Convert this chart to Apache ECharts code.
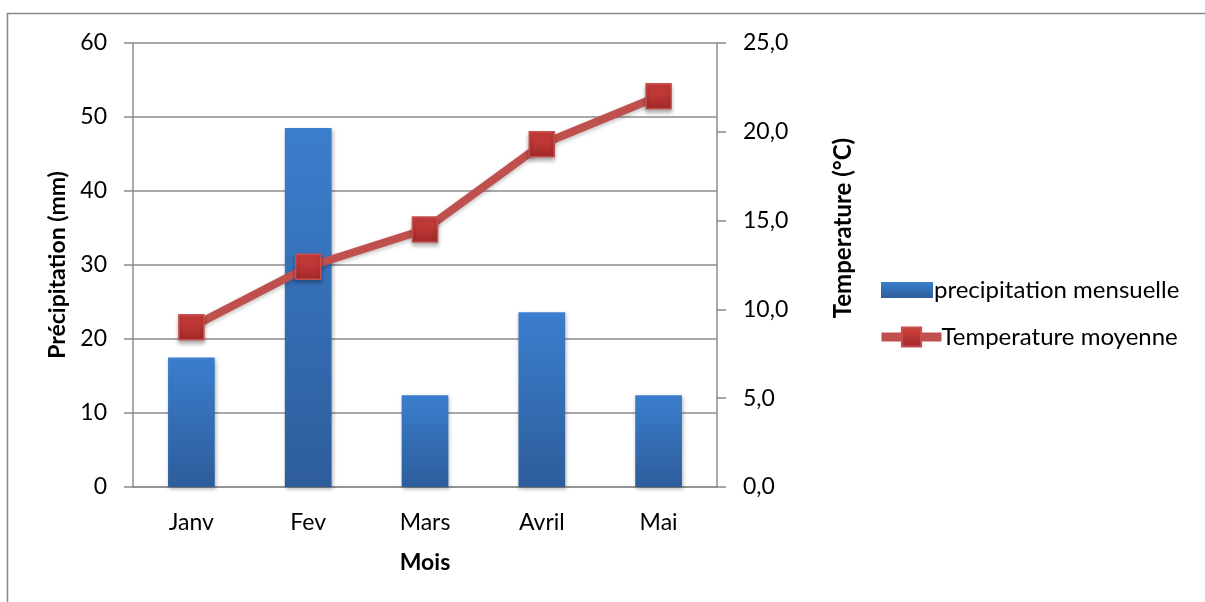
<!DOCTYPE html>
<html>
<head>
<meta charset="utf-8">
<script src="https://cdn.jsdelivr.net/npm/echarts@6/dist/echarts.min.js"></script>
<style>
  html, body { margin: 0; padding: 0; background: #fff; }
  #chart { width: 1205px; height: 602px; }
</style>
</head>
<body>
<div id="chart"></div>
<script>
// Monthly rainfall and mean temperature
const months = ['Janv', 'Fev', 'Mars', 'Avril', 'Mai'];
const precipitation = [17.5, 48.5, 12.4, 23.6, 12.4];   // mm
const temperature = [9.0, 12.4, 14.5, 19.3, 22.0];      // °C

const FONT = 'Lato, "Open Sans", sans-serif';
const FS = 23;
const GRID_GREY = '#8c8c8c';

const chart = echarts.init(document.getElementById('chart'), null, { renderer: 'canvas' });

const barFill = new echarts.graphic.LinearGradient(0, 0, 0, 1, [
  { offset: 0, color: '#3b7ecd' },
  { offset: 1, color: '#2d5d9b' }
]);
const markerFill = new echarts.graphic.LinearGradient(0, 0, 0, 1, [
  { offset: 0, color: '#d2413e' },
  { offset: 1, color: '#a2292a' }
]);

chart.setOption({
  animation: false,
  textStyle: { fontFamily: FONT },
  grid: { left: 133, right: 488, top: 43, bottom: 115, containLabel: false },
  graphic: [
    {
      type: 'rect',
      shape: { x: 7.5, y: 13.5, width: 1400, height: 800 },
      style: { fill: 'none', stroke: '#888', lineWidth: 1.5 },
      silent: true
    },
    {
      type: 'text',
      x: 843, y: 228,
      rotation: Math.PI / 2,
      style: {
        text: 'Temperature (°C)',
        font: 'bold 24px ' + FONT,
        fill: '#000',
        align: 'center',
        verticalAlign: 'middle'
      }
    }
  ],
  legend: [
    {
      orient: 'vertical',
      left: 876, top: 273,
      icon: 'rect',
      itemWidth: 52, itemHeight: 16, itemGap: 5,
      textStyle: { fontFamily: FONT, fontSize: 24, color: '#000', padding: [0, 0, 0, -4] },
      data: ['precipitation mensuelle']
    },
    {
      orient: 'vertical',
      left: 872, top: 320,
      itemWidth: 60, itemHeight: 24, itemGap: 3,
      lineStyle: { width: 9, color: '#c0504d' },
      textStyle: { fontFamily: FONT, fontSize: 24, color: '#000', padding: [0, 0, 0, -5] },
      data: ['Temperature moyenne']
    }
  ],
  xAxis: {
    type: 'category',
    data: months,
    name: 'Mois',
    nameLocation: 'middle',
    nameGap: 64,
    nameTextStyle: { fontFamily: FONT, fontSize: FS, fontWeight: 'bold', color: '#000' },
    axisLine: { lineStyle: { color: GRID_GREY, width: 1.5 } },
    axisTick: { show: false },
    axisLabel: { margin: 24, fontSize: FS, color: '#000', fontFamily: FONT }
  },
  yAxis: [
    {
      type: 'value',
      min: 0, max: 60, interval: 10,
      name: 'Précipitation (mm)',
      nameLocation: 'middle',
      nameGap: 64,
      nameTextStyle: { fontFamily: FONT, fontSize: FS, fontWeight: 'bold', color: '#000' },
      axisLine: { show: true, lineStyle: { color: GRID_GREY, width: 1.5 } },
      axisTick: { show: true, length: 9, lineStyle: { color: GRID_GREY, width: 1.5 } },
      axisLabel: { margin: 26, fontSize: FS, color: '#000', fontFamily: FONT },
      splitLine: { show: true, lineStyle: { color: GRID_GREY, width: 1.5 } }
    },
    {
      type: 'value',
      min: 0, max: 25, interval: 5,
      position: 'right',
      axisLine: { show: true, lineStyle: { color: GRID_GREY, width: 1.5 } },
      axisTick: { show: true, length: 9, lineStyle: { color: GRID_GREY, width: 1.5 } },
      axisLabel: {
        margin: 26, fontSize: FS, color: '#000', fontFamily: FONT,
        formatter: v => v.toFixed(1).replace('.', ',')
      },
      splitLine: { show: false }
    }
  ],
  series: [
    {
      name: 'precipitation mensuelle',
      type: 'bar',
      yAxisIndex: 0,
      barWidth: '40%',
      data: precipitation,
      itemStyle: {
        color: barFill,
        shadowColor: 'rgba(0,0,0,0.3)',
        shadowBlur: 4,
        shadowOffsetX: 1,
        shadowOffsetY: 2
      }
    },
    {
      name: 'Temperature moyenne',
      type: 'line',
      yAxisIndex: 1,
      data: temperature,
      symbol: 'rect',
      symbolSize: 25,
      z: 5,
      lineStyle: {
        color: '#c0504d',
        width: 8,
        shadowColor: 'rgba(0,0,0,0.25)',
        shadowBlur: 4,
        shadowOffsetY: 2
      },
      itemStyle: {
        color: markerFill,
        borderColor: '#c4514e',
        borderWidth: 1.5,
        shadowColor: 'rgba(0,0,0,0.3)',
        shadowBlur: 4,
        shadowOffsetY: 3
      }
    }
  ]
});
</script>
</body>
</html>
